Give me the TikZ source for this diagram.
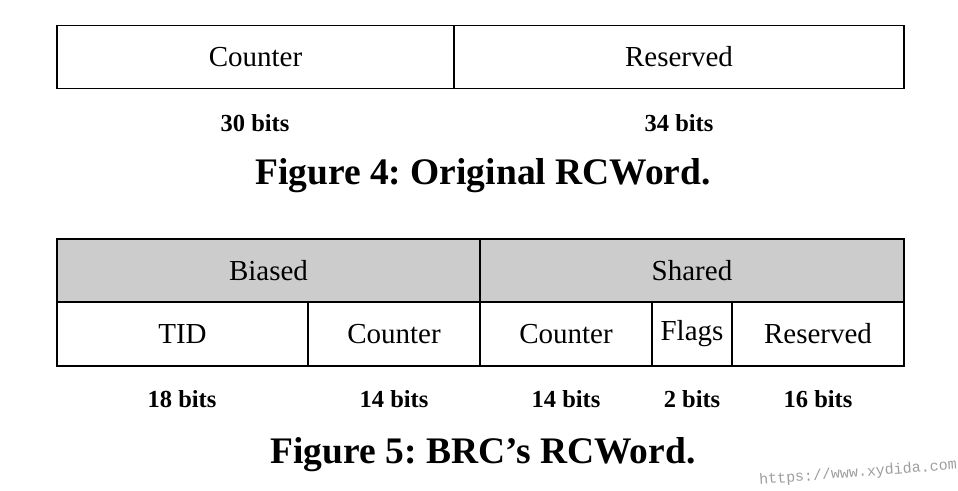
\documentclass[tikz,border=0pt]{standalone}
\usepackage{fontspec}
\setmainfont{Liberation Serif}
\newfontfamily\urlfont{Liberation Mono}
\frenchspacing
\begin{document}
\begin{tikzpicture}[x=1pt,y=-1pt,
  cell/.style={draw=black, line width=1.3pt, inner sep=0pt,
    execute at begin node={\vphantom{d}},
    font=\fontsize{29}{32}\selectfont},
  hdr/.style={cell, fill=black!20},
  bits/.style={inner sep=0pt, font=\fontsize{24.5}{27}\selectfont\bfseries},
  caption/.style={inner sep=0pt, font=\fontsize{37.5}{41}\selectfont\bfseries},
  wmark/.style={inner sep=0pt, text=black!38, font=\fontsize{15}{17}\selectfont\urlfont}]
\useasboundingbox (0,0) rectangle (958,490);

% Original layout: one 64-bit word
\node[cell, minimum width=397, minimum height=63] (oc) at (255.5,57) {Counter};
\node[cell, minimum width=450, minimum height=63] (or) at (679,57) {Reserved};
\node[bits] (ob1) at (255,123) {30 bits};
\node[bits] (ob2) at (679,123) {34 bits};
\node[caption] (cap4) at (483,176) {Figure 4: Original RCWord.};

% BRC layout: biased and shared halves
\node[hdr, minimum width=423, minimum height=63] (bias) at (268.5,270.5) {Biased};
\node[hdr, minimum width=424, minimum height=63] (shar) at (692,270.5) {Shared};
\node[cell, minimum width=251, minimum height=64] (tid) at (182.5,334) {TID};
\node[cell, minimum width=172, minimum height=64] (bc) at (394,334) {Counter};
\node[cell, minimum width=172, minimum height=64] (sc) at (566,334) {Counter};
\node[cell, minimum width=80, minimum height=64] (fl) at (692,334) {Flags};
\node[cell, minimum width=172, minimum height=64] (rs) at (818,334) {Reserved};
\node[bits] (b1) at (182,399) {18 bits};
\node[bits] (b2) at (394,399) {14 bits};
\node[bits] (b3) at (566,399) {14 bits};
\node[bits] (b4) at (692,399) {2 bits};
\node[bits] (b5) at (818,399) {16 bits};
\node[caption] (cap5) at (483,455) {Figure 5: BRC’s RCWord.};

\node[wmark, rotate=4.4] (url) at (858,473) {https://www.xydida.com};
\end{tikzpicture}
\end{document}
